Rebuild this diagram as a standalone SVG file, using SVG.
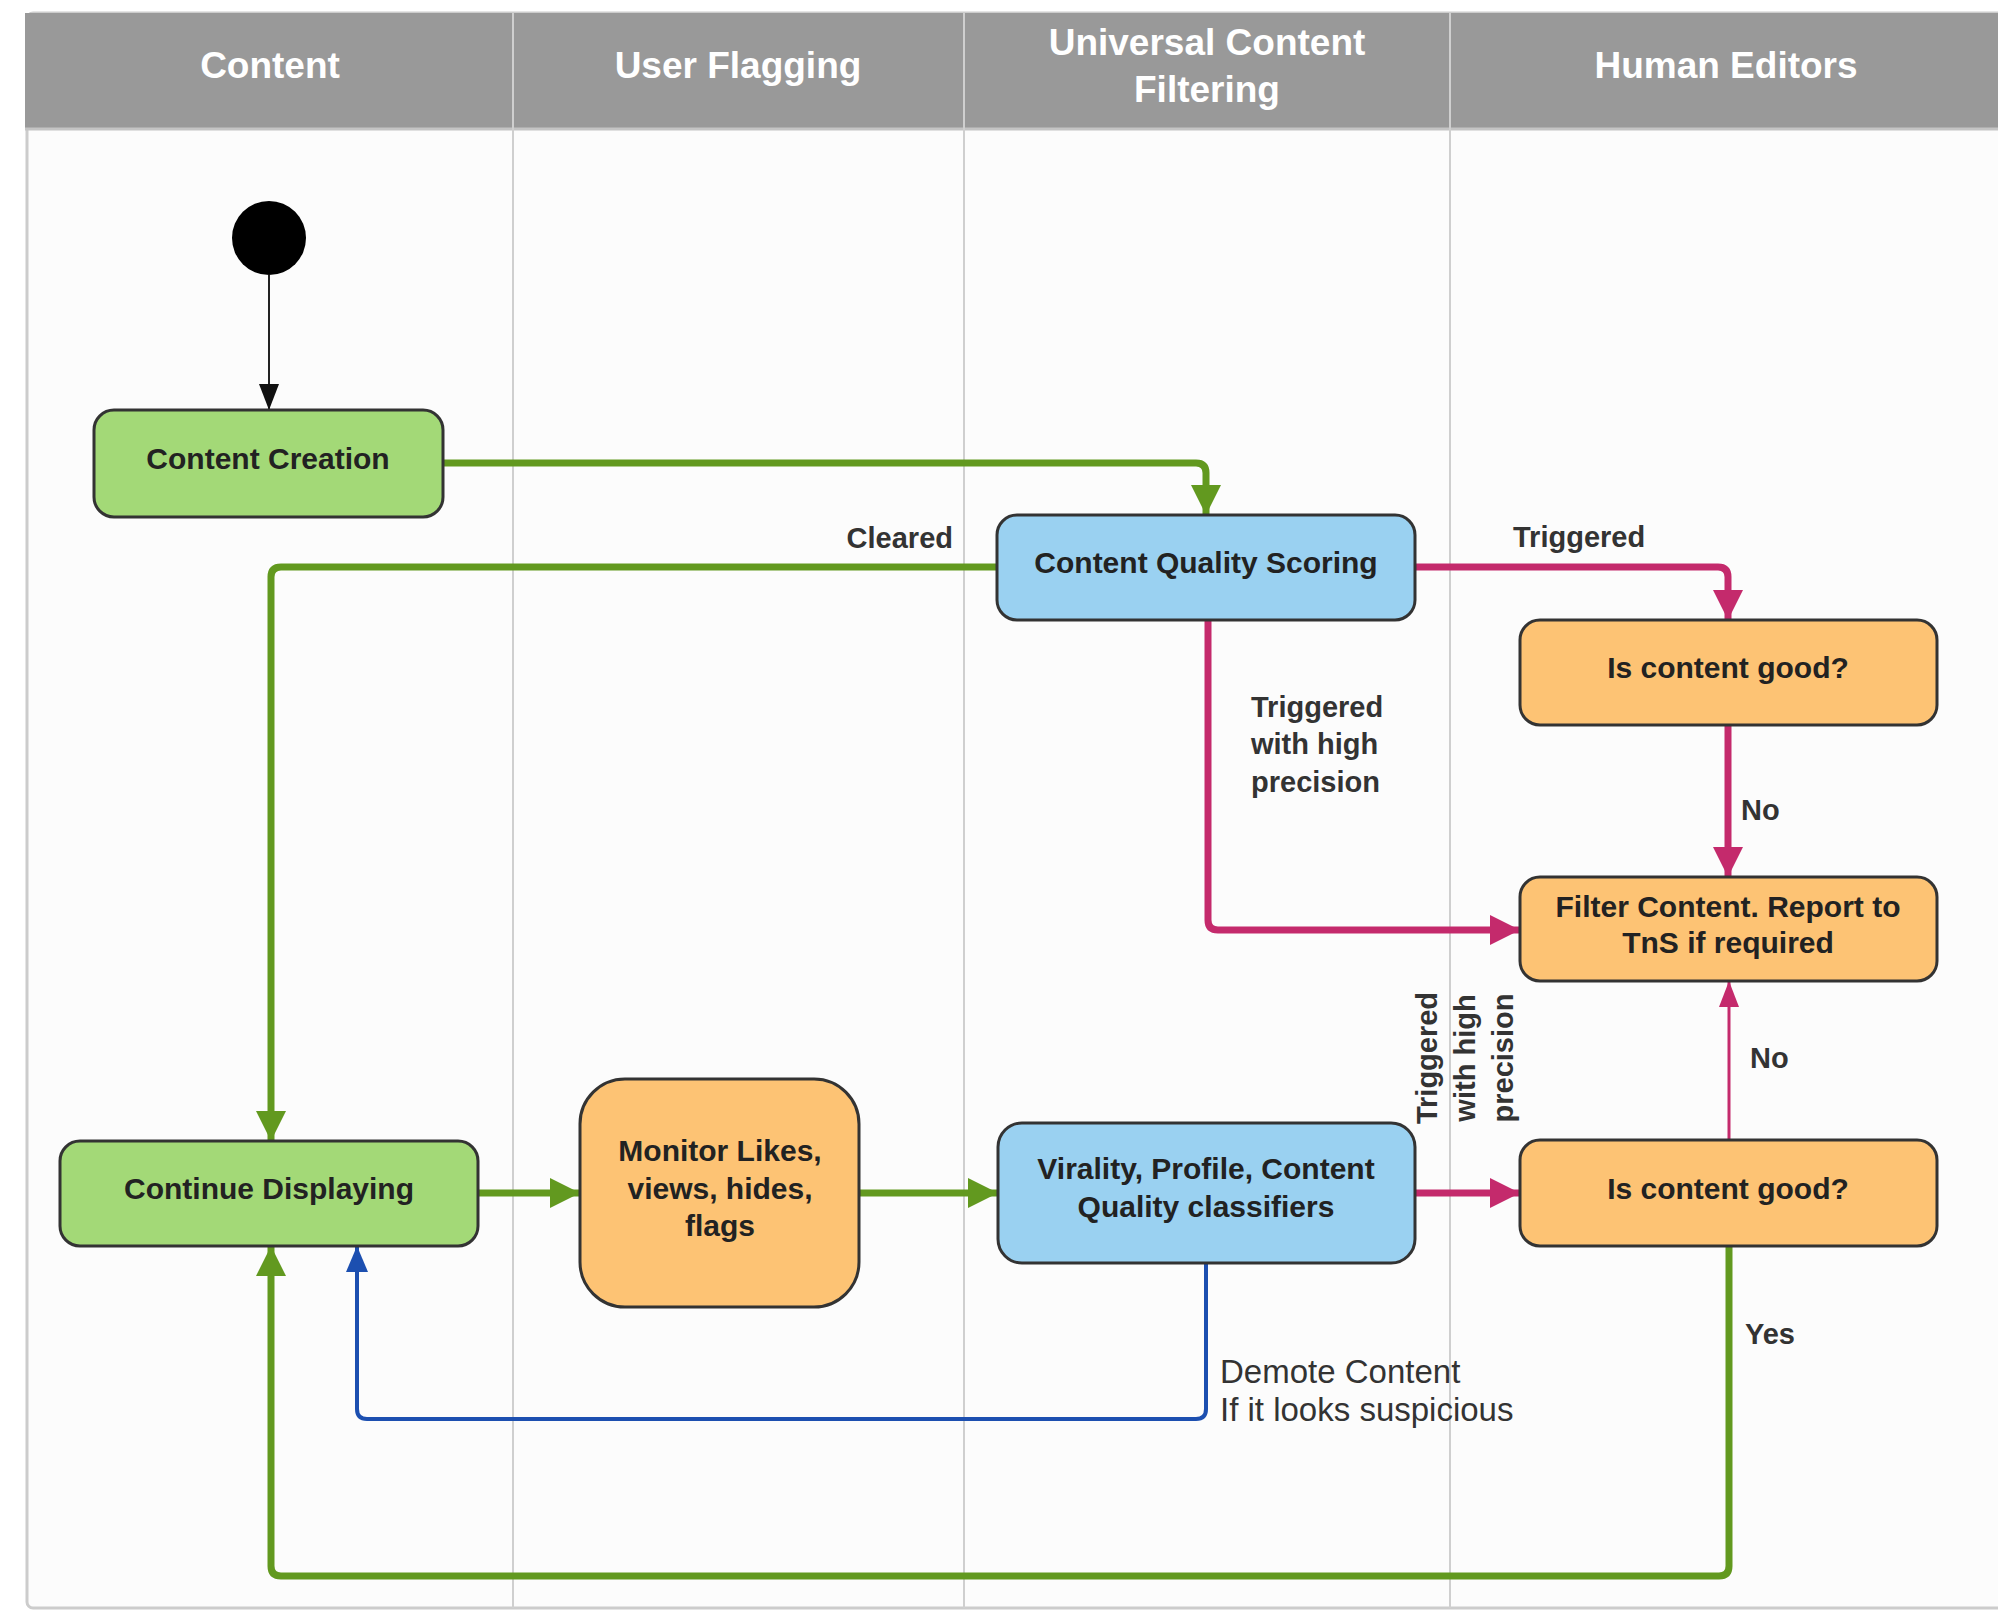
<svg xmlns="http://www.w3.org/2000/svg" width="1998" height="1617" viewBox="0 0 1998 1617">
<defs>
<style>
.hdr{font-family:"Liberation Sans",Arial,sans-serif;font-weight:bold;font-size:37px;fill:#ffffff;text-anchor:middle}
.node{stroke:#333333;stroke-width:3}
.green{fill:#a3d977}
.blue{fill:#9ad1f1}
.orange{fill:#fdc374}
.nt{font-family:"Liberation Sans",Arial,sans-serif;font-weight:bold;font-size:30px;fill:#222222;text-anchor:middle}
.lbl{font-family:"Liberation Sans",Arial,sans-serif;font-weight:bold;font-size:29px;fill:#333333}
.lblr{font-family:"Liberation Sans",Arial,sans-serif;font-size:33px;fill:#333333}
.lane{stroke:#cfcfcf;stroke-width:2}
.cg{fill:none;stroke:#62991f;stroke-width:7}
.cp{fill:none;stroke:#c42a6c;stroke-width:7}
.cpt{fill:none;stroke:#c42a6c;stroke-width:3}
.cb{fill:none;stroke:#1c4fb0;stroke-width:4}
.ck{fill:none;stroke:#222222;stroke-width:2}
</style>
<marker id="ag" markerUnits="userSpaceOnUse" viewBox="0 0 30 30" refX="30" refY="15" markerWidth="30" markerHeight="30" orient="auto"><path d="M0,0 L30,15 L0,30 z" fill="#62991f"/></marker>
<marker id="ap" markerUnits="userSpaceOnUse" viewBox="0 0 30 30" refX="30" refY="15" markerWidth="30" markerHeight="30" orient="auto"><path d="M0,0 L30,15 L0,30 z" fill="#c42a6c"/></marker>
<marker id="apt" markerUnits="userSpaceOnUse" viewBox="0 0 26 20" refX="26" refY="10" markerWidth="26" markerHeight="20" orient="auto"><path d="M0,0 L26,10 L0,20 z" fill="#c42a6c"/></marker>
<marker id="ab" markerUnits="userSpaceOnUse" viewBox="0 0 26 22" refX="26" refY="11" markerWidth="26" markerHeight="22" orient="auto"><path d="M0,0 L26,11 L0,22 z" fill="#1c4fb0"/></marker>
<marker id="ak" markerUnits="userSpaceOnUse" viewBox="0 0 26 20" refX="26" refY="10" markerWidth="26" markerHeight="20" orient="auto"><path d="M0,0 L26,10 L0,20 z" fill="#111111"/></marker>
</defs>
<rect x="0" y="0" width="1998" height="1617" fill="#ffffff"/>
<g id="swimlanes">
<rect x="27" y="13" width="2000" height="1595" rx="6" fill="#fcfcfc" stroke="#cccccc" stroke-width="3"/>
<rect x="25" y="13" width="1990" height="115" fill="#999999"/>
<line x1="25" y1="129" x2="1998" y2="129" stroke="#c4c4c4" stroke-width="3"/>
<line class="lane" x1="513" y1="13" x2="513" y2="1608"/>
<line class="lane" x1="964" y1="13" x2="964" y2="1608"/>
<line class="lane" x1="1450" y1="13" x2="1450" y2="1608"/>
<text class="hdr" x="270" y="78">Content</text>
<text class="hdr" x="738" y="78">User Flagging</text>
<text class="hdr" x="1207" y="55">Universal Content</text>
<text class="hdr" x="1207" y="102">Filtering</text>
<text class="hdr" x="1726" y="78">Human Editors</text>
</g>
<g id="connectors">
<path class="ck" d="M269,275 L269,410" marker-end="url(#ak)"/>
<path class="cg" d="M443,463 L1196,463 Q1206,463 1206,473 L1206,515" marker-end="url(#ag)"/>
<path class="cg" d="M997,567 L281,567 Q271,567 271,577 L271,1141" marker-end="url(#ag)"/>
<path class="cg" d="M478,1193 L580,1193" marker-end="url(#ag)"/>
<path class="cg" d="M859,1193 L998,1193" marker-end="url(#ag)"/>
<path class="cg" d="M1729,1246 L1729,1566 Q1729,1576 1719,1576 L281,1576 Q271,1576 271,1566 L271,1246" marker-end="url(#ag)"/>
<path class="cp" d="M1415,567 L1718,567 Q1728,567 1728,577 L1728,620" marker-end="url(#ap)"/>
<path class="cp" d="M1208,620 L1208,920 Q1208,930 1218,930 L1520,930" marker-end="url(#ap)"/>
<path class="cp" d="M1728,725 L1728,877" marker-end="url(#ap)"/>
<path class="cp" d="M1415,1193 L1520,1193" marker-end="url(#ap)"/>
<path class="cpt" d="M1729,1140 L1729,981" marker-end="url(#apt)"/>
<path class="cb" d="M1206,1263 L1206,1409 Q1206,1419 1196,1419 L367,1419 Q357,1419 357,1409 L357,1246" marker-end="url(#ab)"/>
<text class="lbl" x="953" y="548" text-anchor="end">Cleared</text>
<text class="lbl" x="1513" y="547">Triggered</text>
<text class="lbl" x="1251" y="717">Triggered</text>
<text class="lbl" x="1251" y="754">with high</text>
<text class="lbl" x="1251" y="792">precision</text>
<text class="lbl" x="1741" y="820">No</text>
<text class="lbl" x="1750" y="1068">No</text>
<text class="lbl" x="1745" y="1344">Yes</text>
<text class="lblr" x="1220" y="1383">Demote Content</text>
<text class="lblr" x="1220" y="1421">If it looks suspicious</text>
<text class="lbl" text-anchor="middle" transform="translate(1437,1058) rotate(-90)">Triggered</text>
<text class="lbl" text-anchor="middle" transform="translate(1475,1058) rotate(-90)">with high</text>
<text class="lbl" text-anchor="middle" transform="translate(1513,1058) rotate(-90)">precision</text>
</g>
<g id="start"><circle cx="269" cy="238" r="37" fill="#000000"/></g>
<g id="content-creation"><rect class="node green" x="94" y="410" width="349" height="107" rx="20"/><text class="nt" x="268" y="469">Content Creation</text></g>
<g id="content-quality-scoring"><rect class="node blue" x="997" y="515" width="418" height="105" rx="20"/><text class="nt" x="1206" y="573">Content Quality Scoring</text></g>
<g id="is-content-good-1"><rect class="node orange" x="1520" y="620" width="417" height="105" rx="20"/><text class="nt" x="1728" y="678">Is content good?</text></g>
<g id="filter-content"><rect class="node orange" x="1520" y="877" width="417" height="104" rx="20"/><text class="nt" x="1728" y="917">Filter Content. Report to</text><text class="nt" x="1728" y="953">TnS if required</text></g>
<g id="continue-displaying"><rect class="node green" x="60" y="1141" width="418" height="105" rx="20"/><text class="nt" x="269" y="1199">Continue Displaying</text></g>
<g id="monitor"><rect class="node orange" x="580" y="1079" width="279" height="228" rx="45"/><text class="nt" x="720" y="1161">Monitor Likes,</text><text class="nt" x="720" y="1199">views, hides,</text><text class="nt" x="720" y="1236">flags</text></g>
<g id="virality"><rect class="node blue" x="998" y="1123" width="417" height="140" rx="24"/><text class="nt" x="1206" y="1179">Virality, Profile, Content</text><text class="nt" x="1206" y="1217">Quality classifiers</text></g>
<g id="is-content-good-2"><rect class="node orange" x="1520" y="1140" width="417" height="106" rx="20"/><text class="nt" x="1728" y="1199">Is content good?</text></g>
</svg>
